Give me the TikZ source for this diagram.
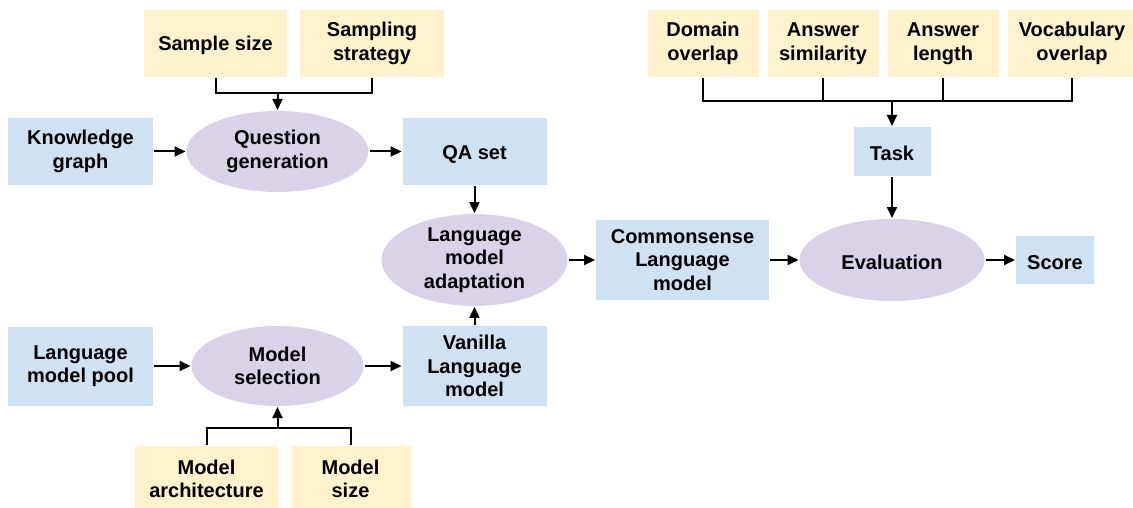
\documentclass[tikz,border=0pt]{standalone}
\usepackage{fontspec}
\setmainfont{Liberation Sans}
\usetikzlibrary{arrows.meta,positioning,shapes.geometric}

\definecolor{boxblue}{HTML}{CFE2F3}
\definecolor{boxyellow}{HTML}{FFF2CC}
\definecolor{boxpurple}{HTML}{D9D2E9}

\tikzset{
  block/.style={rectangle, fill=boxblue, align=center, inner sep=0pt, minimum width=144pt, minimum height=67pt},
  factor/.style={rectangle, fill=boxyellow, align=center, inner sep=0pt, minimum width=111pt, minimum height=67pt},
  process/.style={ellipse, fill=boxpurple, align=center, inner sep=0pt, minimum width=182pt, minimum height=81pt},
}

\begin{document}
\begin{tikzpicture}[node distance=197pt, >={Triangle[length=11pt,width=10pt]}, line width=2pt,
    font=\fontsize{20}{23.5}\selectfont\bfseries\rule{0pt}{19pt}]
    \useasboundingbox (0,0) rectangle (1133pt,-508pt);

    % question generation row
    \node[block, minimum width=145pt] (kg) at (80.5pt,-151.5pt) {Knowledge\\graph};
    \node[process, right of=kg] (qgen) {Question\\generation};
    \node[block, right of=qgen] (qa) {QA set};
    \node[factor, minimum width=143pt, above of=qgen, yshift=-89pt, xshift=-62pt] (ssize) {Sample size};
    \node[factor, minimum width=144pt, right of=ssize, xshift=-40.5pt] (sstrat) {Sampling\\strategy};

    % adaptation and evaluation
    \node[process, minimum width=186pt, minimum height=82pt, below of=qa, yshift=88.5pt] (adapt) {Language\\model\\adaptation};
    \node[block, minimum width=173pt, minimum height=80pt, right of=adapt, xshift=11pt] (csm) {Commonsense\\Language\\model};
    \node[process, minimum width=185pt, minimum height=82pt, right of=csm, xshift=12.5pt] (eval) {Evaluation};
    \node[block, minimum width=78pt, minimum height=48pt, right of=eval, xshift=-34pt] (score) {Score};
    \node[block, minimum width=77pt, minimum height=49pt, above of=eval, yshift=-88.5pt] (task) {Task};
    \node[factor, above of=task, yshift=-89pt, xshift=-189pt] (domain) {Domain\\overlap};
    \node[factor, right of=domain, xshift=-77pt] (asim) {Answer\\similarity};
    \node[factor, right of=asim, xshift=-77pt] (alen) {Answer\\length};
    \node[factor, minimum width=128pt, right of=alen, xshift=-68pt] (vocab) {Vocabulary\\overlap};

    % model selection row
    \node[block, minimum height=80pt, below of=adapt, yshift=91pt] (vanilla) {Vanilla\\Language\\model};
    \node[process, minimum width=172pt, minimum height=80pt, left of=vanilla] (msel) {Model\\selection};
    \node[block, minimum width=145pt, minimum height=79pt, left of=msel] (lmpool) {Language\\model pool};
    \node[factor, minimum width=143pt, below of=msel, yshift=84pt, xshift=-71pt] (march) {Model\\architecture};
    \node[factor, minimum width=120pt, right of=march, xshift=-53pt] (msize) {Model\\size};

    % bus joints
    \path (qgen.north) ++(0,17pt) coordinate (qjoin);
    \path (task.north) ++(0,25pt) coordinate (tjoin);
    \path (msel.south) ++(0,-21pt) coordinate (mjoin);

    \draw (ssize.south) |- (qjoin) -| (sstrat.south);
    \draw[->] (qjoin) -- (qgen);
    \draw (domain.south) |- (tjoin) -| (vocab.south);
    \draw (asim.south) -- (asim.south |- tjoin);
    \draw (alen.south) -- (alen.south |- tjoin);
    \draw[->] (tjoin) -- (task);
    \draw (march.north) |- (mjoin) -| (msize.north);
    \draw[->] (mjoin) -- (msel);

    \draw[->] (kg) -- (qgen);
    \draw[->] (qgen) -- (qa);
    \draw[->] (qa) -- (adapt);
    \draw[->] (vanilla) -- (adapt);
    \draw[->] (adapt) -- (csm);
    \draw[->] (csm) -- (eval);
    \draw[->] (eval) -- (score);
    \draw[->] (task) -- (eval);
    \draw[->] (lmpool) -- (msel);
    \draw[->] (msel) -- (vanilla);
\end{tikzpicture}
\end{document}
